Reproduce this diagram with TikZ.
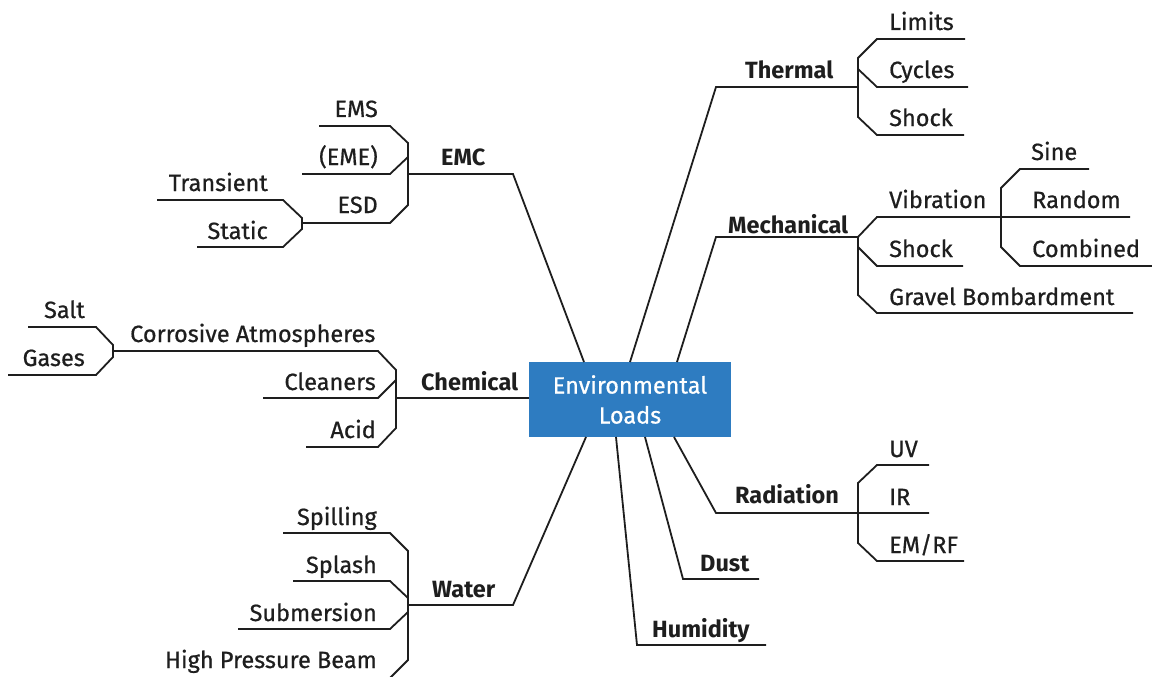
\documentclass[tikz,border=0pt]{standalone}
\usepackage{fontspec}
\setmainfont{Fira Sans}[UprightFeatures={FakeBold=0.7}]
\definecolor{ink}{HTML}{1E1E1E}
\definecolor{hub}{HTML}{2E7CC1}
\newcommand{\lab}{\fontsize{23.5}{28}\selectfont}
\newcommand{\hd}{\fontsize{23.5}{28}\selectfont\bfseries}
\begin{document}
\begin{tikzpicture}[x=1pt,y=-1pt,
  ln/.style={line width=1.8pt, draw=ink, line join=miter},
  labL/.style={font=\lab, text=ink, inner sep=0pt, anchor=base west},
  labR/.style={font=\lab, text=ink, inner sep=0pt, anchor=base east},
  hdL/.style={font=\hd, text=ink, inner sep=0pt, anchor=base west},
  hubbox/.style={fill=hub, text=white, font=\lab, align=center, inner sep=0pt,
    minimum width=202pt, minimum height=75pt}]
\useasboundingbox (0,0) rectangle (1152,677);

% central topic
\node[hubbox] (env) at (630,399.5) {Environmental\\[2pt]Loads};

% attachment points on the central box
\coordinate (eTh)  at (630,362);
\coordinate (eMe)  at (677,362);
\coordinate (eEm)  at (584,362);
\coordinate (eCh)  at (529,398);
\coordinate (eWa)  at (586,437);
\coordinate (eHu)  at (616,437);
\coordinate (eDu)  at (645,437);
\coordinate (eRa)  at (674,437);

% junctions of the branches
\coordinate (jTh) at (858,87);
\coordinate (jEm) at (408,174);
\coordinate (jEs) at (302,223);
\coordinate (jCh) at (396,398);
\coordinate (jCo) at (113,351);
\coordinate (jMe) at (858,237);
\coordinate (jVi) at (1001,217);
\coordinate (jRa) at (858,513);
\coordinate (jWa) at (408,605);

% ---------- Thermal ----------
\draw[ln] (eTh) -- (716,87) -- (jTh);
\draw[ln] (965,39) -- (877,39) -- (858,58) -- (858,117) -- (877,135) -- (964,135);
\draw[ln] (858,69) -- (877,87) -- (968,87);
\node[hdL] (thermal) at (745,79) {Thermal};
\node[labL] (limits) at (889,30) {Limits};
\node[labL] (cycles) at (889,78) {Cycles};
\node[labL] (tshock) at (889,126) {Shock};

% ---------- EMC ----------
\draw[ln] (eEm) -- (513,174) -- (jEm);
\draw[ln] (319,126) -- (390,126) -- (408,143) -- (408,205) -- (390,223) -- (jEs);
\draw[ln] (408,157) -- (390,174) -- (302,174);
\draw[ln] (157,200) -- (283,200) -- (302,218) -- (302,229) -- (283,247) -- (197,247);
\node[hdL] (emc) at (441,165) {EMC};
\node[labR] (ems) at (378,117) {EMS};
\node[labR] (eme) at (378,165) {(EME)};
\node[labR] (esd) at (378,213) {ESD};
\node[labR] (transient) at (268,191) {Transient};
\node[labR] (static) at (268,239) {Static};

% ---------- Chemical ----------
\draw[ln] (eCh) -- (jCh);
\draw[ln] (jCo) -- (378,351) -- (396,370) -- (396,428) -- (378,447) -- (306,447);
\draw[ln] (396,380) -- (378,398) -- (263,398);
\draw[ln] (28,327) -- (96,327) -- (113,345) -- (113,357) -- (96,375) -- (8,375);
\node[hdL] (chemical) at (421,390) {Chemical};
\node[labL] (corrosive) at (130,342) {Corrosive Atmospheres};
\node[labR] (cleaners) at (376,390) {Cleaners};
\node[labR] (acid) at (376,438) {Acid};
\node[labR] (salt) at (85,318) {Salt};
\node[labR] (gases) at (85,366) {Gases};

% ---------- Mechanical ----------
\draw[ln] (eMe) -- (716,237) -- (jMe);
\draw[ln] (1130,217) -- (877,217) -- (jMe) -- (858,295) -- (877,313) -- (1133,313);
\draw[ln] (858,247) -- (877,266) -- (963,266);
\draw[ln] (1089,169) -- (1020,169) -- (1001,188) -- (1001,247) -- (1020,266) -- (1155,266);
\node[hdL] (mechanical) at (728,233) {Mechanical};
\node[labL] (vibration) at (889,208) {Vibration};
\node[labL] (mshock) at (889,257) {Shock};
\node[labL] (gravel) at (889,305) {Gravel Bombardment};
\node[labL] (sine) at (1031,160) {Sine};
\node[labL] (random) at (1032,208) {Random};
\node[labL] (combined) at (1032,257) {Combined};

% ---------- Radiation ----------
\draw[ln] (eRa) -- (716,513) -- (929,513);
\draw[ln] (929,465) -- (877,465) -- (858,483) -- (858,543) -- (877,561) -- (964,561);
\node[hdL] (radiation) at (735,503) {Radiation};
\node[labL] (uv) at (889,457) {UV};
\node[labL] (ir) at (889,505) {IR};
\node[labL] (emrf) at (889,553) {EM/RF};

% ---------- Dust and Humidity ----------
\draw[ln] (eDu) -- (683,579) -- (759,579);
\node[hdL] (dust) at (700,571) {Dust};
\draw[ln] (eHu) -- (637,645) -- (766,645);
\node[hdL] (humidity) at (652,637) {Humidity};

% ---------- Water ----------
\draw[ln] (eWa) -- (513,605) -- (jWa);
\draw[ln] (283,533) -- (390,533) -- (408,551) -- (408,660) -- (390,678) -- (150,678);
\draw[ln] (408,598) -- (390,581) -- (293,581);
\draw[ln] (408,612) -- (390,629) -- (238,629);
\node[hdL] (water) at (432,597) {Water};
\node[labR] (spilling) at (377,525) {Spilling};
\node[labR] (splash) at (377,573) {Splash};
\node[labR] (submersion) at (377,621) {Submersion};
\node[labR] (beam) at (377,668) {High Pressure Beam};
\end{tikzpicture}
\end{document}
